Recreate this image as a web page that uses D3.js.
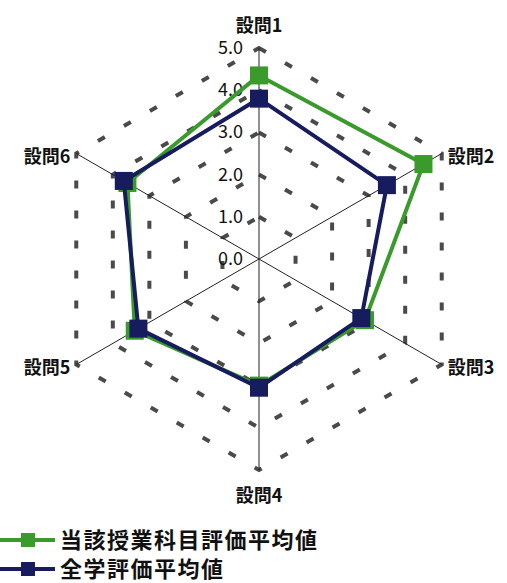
<!DOCTYPE html>
<html>
<head>
<meta charset="utf-8">
<script src="https://d3js.org/d3.v7.min.js"></script>
<style>
  body { margin: 0; background: #fff; }
  text { font-family: "Noto Sans CJK JP", "Liberation Sans", sans-serif; }
</style>
</head>
<body>
<div id="container"></div>
<script>
// データ
const questions = ["設問1", "設問2", "設問3", "設問4", "設問5", "設問6"];
const courseAvg = [4.35, 4.5, 2.9, 3.0, 3.4, 3.6];   // 当該授業科目評価平均値
const schoolAvg = [3.8, 3.5, 2.8, 3.05, 3.3, 3.7];   // 全学評価平均値
const levels = [0, 1, 2, 3, 4, 5];
const seriesNames = ["当該授業科目評価平均値", "全学評価平均値"];
const seriesColors = ["#3a9a2c", "#161c5e"];

const width = 507, height = 583;
const cx = 259, cy = 259;

const svg = d3.select('#container').append('svg')
  .attr('width', width).attr('height', height);

const r = d3.scaleLinear().domain([0, 5]).range([0, 211]);
const angle = d3.scaleLinear().domain([0, questions.length]).range([0, 2 * Math.PI]);

function pt(i, v) {
  const a = angle(i);
  return [cx + r(v) * Math.sin(a), cy - r(v) * Math.cos(a)];
}

// 目盛の六角形（破線）
levels.filter(l => l > 0).forEach(l => {
  const pts = questions.map((q, i) => pt(i, l));
  svg.append('polygon')
    .attr('points', pts.map(p => p.join(',')).join(' '))
    .attr('fill', 'none')
    .attr('stroke', '#4a4a4a')
    .attr('stroke-width', 4)
    .attr('stroke-dasharray', '8,22');
});

// 軸
questions.forEach((q, i) => {
  const [x, y] = pt(i, 5);
  svg.append('line')
    .attr('x1', cx).attr('y1', cy).attr('x2', x).attr('y2', y)
    .attr('stroke', '#222').attr('stroke-width', 1);
});

// 目盛ラベル
levels.forEach(l => {
  svg.append('text')
    .attr('x', cx - 16).attr('y', cy - r(l) + 6)
    .attr('text-anchor', 'end')
    .attr('font-family', '"Liberation Sans", Arial, sans-serif')
    .attr('font-size', 18)
    .attr('fill', '#111')
    .text(l.toFixed(1));
});

// 軸ラベル
const labelPos = [
  { dx: 0, dy: -16, anchor: 'middle' },
  { dx: 6, dy: 9, anchor: 'start' },
  { dx: 6, dy: 9, anchor: 'start' },
  { dx: 0, dy: 32, anchor: 'middle' },
  { dx: -6, dy: 9, anchor: 'end' },
  { dx: -6, dy: 9, anchor: 'end' }
];
questions.forEach((q, i) => {
  const [x, y] = pt(i, 5);
  svg.append('text')
    .attr('x', x + labelPos[i].dx).attr('y', y + labelPos[i].dy)
    .attr('text-anchor', labelPos[i].anchor)
    .attr('font-size', 18).attr('font-weight', 'bold')
    .attr('fill', '#111')
    .text(q);
});

// 系列
const line = d3.line().curve(d3.curveLinearClosed);
[courseAvg, schoolAvg].forEach((vals, s) => {
  const pts = vals.map((v, i) => pt(i, v));
  svg.append('path')
    .attr('d', line(pts))
    .attr('fill', 'none')
    .attr('stroke', seriesColors[s])
    .attr('stroke-width', 4)
    .attr('stroke-linejoin', 'miter');
  svg.selectAll(null).data(pts).enter().append('rect')
    .attr('x', d => d[0] - 9).attr('y', d => d[1] - 9)
    .attr('width', 18).attr('height', 18)
    .attr('fill', seriesColors[s]);
});

// 凡例
seriesNames.forEach((n, s) => {
  const y = 540 + s * 29;
  svg.append('line')
    .attr('x1', 0).attr('x2', 55).attr('y1', y).attr('y2', y)
    .attr('stroke', seriesColors[s]).attr('stroke-width', 4);
  svg.append('rect')
    .attr('x', 21).attr('y', y - 7).attr('width', 14).attr('height', 14)
    .attr('fill', seriesColors[s]);
  svg.append('text')
    .attr('x', 60).attr('y', y + 8)
    .attr('font-size', 22).attr('font-weight', 'bold')
    .attr('letter-spacing', 1.5)
    .attr('fill', '#111')
    .text(n);
});
</script>
</body>
</html>
